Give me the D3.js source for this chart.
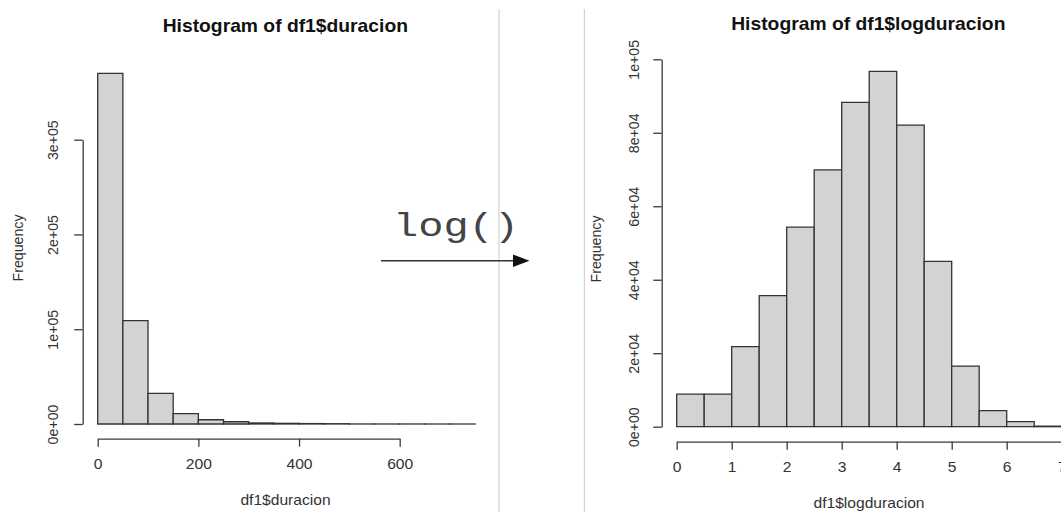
<html>
<head>
<script src="https://cdn.jsdelivr.net/npm/d3@7/dist/d3.min.js"></script>
<style>
body { margin: 0; background: #fff; }
text { font-family: "Liberation Sans", Arial, sans-serif; fill: #333; }
.title { font-weight: bold; fill: #111; }
.axis path, .axis line { stroke: #3a3a3a; stroke-width: 1.3px; }
</style>
</head>
<body>
<svg id="chart" width="1061" height="512"></svg>
<script>
// left histogram: df1$duracion
var durBreaks = [0, 50, 100, 150, 200, 250, 300, 350, 400, 450, 500, 550, 600, 650, 700, 750];
var durCounts = [370000, 109000, 32400, 10900, 4500, 2400, 1100, 700, 450, 300, 40, 20, 10, 5, 2];
var durXTicks = [0, 200, 400, 600];
var durYTicks = [0, 100000, 200000, 300000];
var durYLabels = ["0e+00", "1e+05", "2e+05", "3e+05"];

// right histogram: df1$logduracion
var logBreaks = [0, 0.5, 1, 1.5, 2, 2.5, 3, 3.5, 4, 4.5, 5, 5.5, 6, 6.5, 7];
var logCounts = [8850, 8850, 21800, 35700, 54300, 69900, 88300, 96700, 82100, 45000, 16500, 4400, 1400, 150];
var logXTicks = [0, 1, 2, 3, 4, 5, 6, 7];
var logYTicks = [0, 20000, 40000, 60000, 80000, 100000];
var logYLabels = ["0e+00", "2e+04", "4e+04", "6e+04", "8e+04", "1e+05"];

var svg = d3.select("#chart");
var SX = 1.1; // the picture is a bit wider than tall

function hist(o) {
    var x = d3.scaleLinear().domain(o.xdom).range(o.xr);
    var y = d3.scaleLinear().domain(o.ydom).range(o.yr);
    var g = svg.append("g");

    var bins = d3.pairs(o.breaks).map(function(p, i) { return { x0: p[0], x1: p[1], n: o.counts[i] }; });
    // paths, not rects, so that empty bins still show as a line
    g.selectAll(".bar").data(bins).enter().append("path")
        .attr("d", function(d) {
            return "M" + x(d.x0) + "," + y(0) + "V" + y(d.n) + "H" + x(d.x1) + "V" + y(0) + "Z";
        })
        .style("fill", "#d3d3d3")
        .style("stroke", "#333")
        .style("stroke-width", "1.3px");

    var xa = g.append("g").attr("class", "axis")
        .attr("transform", "translate(0," + o.xaxisY + ")")
        .call(d3.axisBottom(x).tickValues(o.xticks).tickSize(8).tickSizeOuter(0)
            .tickPadding(o.xpad).tickFormat(d3.format("d")));
    xa.selectAll("text").style("font-size", "14.2px").style("fill", "#333")
        .attr("transform", "scale(" + SX + ",1)");

    var ya = g.append("g").attr("class", "axis")
        .attr("transform", "translate(" + o.yaxisX + ",0)")
        .call(d3.axisLeft(y).tickValues(o.yticks).tickSize(8.5).tickSizeOuter(0)
            .tickFormat(function(d, i) { return o.ylabels[i]; }));
    ya.selectAll("text").style("font-size", "14.2px").style("fill", "#333")
        .attr("transform", "rotate(-90)")
        .attr("x", 0).attr("dy", 0)
        .attr("y", o.ylabOff)
        .attr("text-anchor", "middle");

    g.append("text").attr("class", "title")
        .attr("transform", "translate(" + o.titleX + "," + o.titleY + ") scale(1.09,1)")
        .attr("text-anchor", "middle").style("font-size", "17.7px")
        .text(o.title);

    g.append("text")
        .attr("transform", "translate(" + o.xlabX + "," + o.xlabY + ") scale(" + SX + ",1)")
        .attr("text-anchor", "middle").style("font-size", "14.2px")
        .text(o.xlab);

    g.append("text")
        .attr("transform", "translate(" + o.ylabX + "," + o.ylabY + ") rotate(-90)")
        .attr("text-anchor", "middle").style("font-size", "14.2px")
        .text("Frequency");
}

hist({
    breaks: durBreaks, counts: durCounts, xticks: durXTicks, yticks: durYTicks, ylabels: durYLabels,
    xdom: [0, 600], xr: [97.7, 399.7], ydom: [0, 300000], yr: [424, 139.7],
    xaxisY: 438.7, xpad: 12.5, yaxisX: 82.7, ylabOff: -24.5,
    title: "Histogram of df1$duracion", titleX: 285.3, titleY: 31.5,
    xlab: "df1$duracion", xlabX: 285.5, xlabY: 505, ylabX: 22.5, ylabY: 248
});

hist({
    breaks: logBreaks, counts: logCounts, xticks: logXTicks, yticks: logYTicks, ylabels: logYLabels,
    xdom: [0, 7], xr: [676.7, 1061.7], ydom: [0, 100000], yr: [426.7, 59.3],
    xaxisY: 441.7, xpad: 12.5, yaxisX: 661.7, ylabOff: -22.5,
    title: "Histogram of df1$logduracion", titleX: 868.3, titleY: 29.5,
    xlab: "df1$logduracion", xlabX: 869, xlabY: 508, ylabX: 600.5, ylabY: 249
});

// separators between the two screenshots
svg.selectAll(".sep").data([499, 584.3]).enter().append("line")
    .attr("x1", function(d) { return d; }).attr("x2", function(d) { return d; })
    .attr("y1", 9).attr("y2", 512)
    .style("stroke", "#c8c8c8").style("stroke-width", "1px");

// log() arrow
svg.append("text").attr("transform", "translate(393,236) scale(1,0.8)")
    .style("font-family", "'Courier New', 'Liberation Mono', monospace")
    .style("font-size", "42px").style("fill", "#444")
    .text("log()");
svg.append("line").attr("x1", 381).attr("x2", 515).attr("y1", 260.7).attr("y2", 260.7)
    .style("stroke", "#333").style("stroke-width", "1.5px");
svg.append("path").attr("d", "M513,254.5L529.5,260.7L513,267Z").style("fill", "#111");
</script>
</body>
</html>
